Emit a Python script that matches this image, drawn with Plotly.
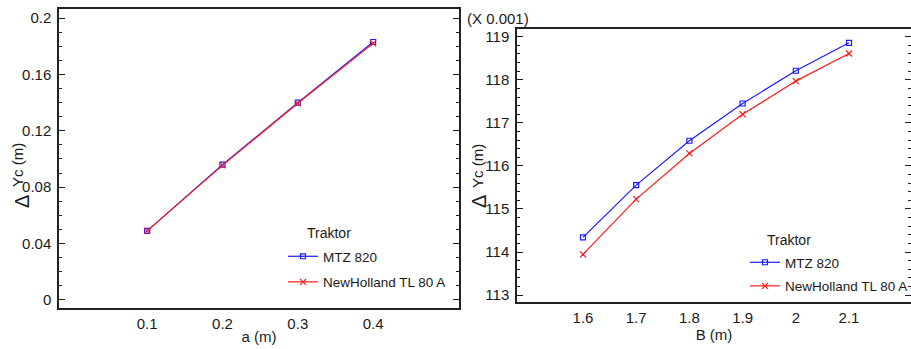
import plotly.graph_objects as go

W, H = 911, 349

# ---- data ----
a_vals = [0.1, 0.2, 0.3, 0.4]
a_mtz = [0.049, 0.096, 0.140, 0.183]
a_nh = [0.049, 0.0955, 0.1395, 0.182]

b_vals = [1.6, 1.7, 1.8, 1.9, 2.0, 2.1]
b_mtz = [114.34, 115.555, 116.585, 117.45, 118.21, 118.86]
b_nh = [113.945, 115.23, 116.29, 117.20, 117.97, 118.61]

left_yticks = [0, 0.04, 0.08, 0.12, 0.16, 0.2]
left_yticktext = ["0", "0.04", "0.08", "0.12", "0.16", "0.2"]
left_xticks = [0.1, 0.2, 0.3, 0.4]
right_yticks = [113, 114, 115, 116, 117, 118, 119]
right_xticks = [1.6, 1.7, 1.8, 1.9, 2.0, 2.1]
right_xticktext = ["1.6", "1.7", "1.8", "1.9", "2", "2.1"]

names = ["MTZ 820", "NewHolland TL 80 A"]
colors = ["#1a1aff", "#ff1a1a"]
symbols = ["square-open", "x-thin-open"]

FONT = "Liberation Sans, Arial, sans-serif"
TXT = "#1a1a1a"
FS = 15
LFS = 13.5

def px2x(p):
    return p / W

def px2y(p):
    return 1 - p / H

fig = go.Figure()

for i, ys in enumerate([a_mtz, a_nh]):
    fig.add_trace(go.Scatter(x=a_vals, y=ys, mode="lines+markers", name=names[i],
                             line=dict(color=colors[i], width=1.2),
                             marker=dict(symbol=symbols[i], size=5 if i == 0 else 6,
                                         color=colors[i], line=dict(width=1.2, color=colors[i])),
                             xaxis="x", yaxis="y", legend="legend", legendgroup="a%d" % i))
for i, ys in enumerate([b_mtz, b_nh]):
    fig.add_trace(go.Scatter(x=b_vals, y=ys, mode="lines+markers", name=names[i],
                             line=dict(color=colors[i], width=1.2),
                             marker=dict(symbol=symbols[i], size=5 if i == 0 else 6,
                                         color=colors[i], line=dict(width=1.2, color=colors[i])),
                             xaxis="x2", yaxis="y2", legend="legend2", legendgroup="b%d" % i))

axis_common = dict(showgrid=False, zeroline=False, linecolor="#222", color=TXT,
                   automargin=False, tickfont=dict(family=FONT, size=FS, color=TXT))

fig.update_layout(
    width=W, height=H,
    margin=dict(l=0, r=0, t=0, b=0, autoexpand=False),
    paper_bgcolor="white", plot_bgcolor="white",
    font=dict(family=FONT, size=FS, color=TXT),
    xaxis=dict(domain=[px2x(59), px2x(459)], range=[-0.017, 0.514], anchor="y",
               tickvals=left_xticks, ticks="", showline=True, linewidth=2, mirror=True,
               ticklabelstandoff=1,
               title=dict(text="a (m)", font=dict(family=FONT, size=FS, color=TXT), standoff=0),
               **axis_common),
    yaxis=dict(domain=[px2y(308), px2y(9)], range=[-0.0057, 0.2064], anchor="x",
               tickvals=left_yticks, ticktext=left_yticktext, ticks="inside", ticklen=6,
               tickwidth=1.2, tickcolor="#222",
               minor=dict(dtick=0.01, tick0=0, ticks="inside", ticklen=3.5, tickwidth=1.2, tickcolor="#222"),
               showline=True, linewidth=1.5, mirror="allticks", ticklabelstandoff=3,
               **axis_common),
    xaxis2=dict(domain=[px2x(517), 1.0], range=[1.476, 2.2165], anchor="y2",
                tickvals=right_xticks, ticktext=right_xticktext, ticks="", showline=True,
                linewidth=2, mirror=True, ticklabelstandoff=1,
                title=dict(text="B (m)", font=dict(family=FONT, size=FS, color=TXT), standoff=0),
                **axis_common),
    yaxis2=dict(domain=[px2y(302), px2y(29)], range=[112.84, 119.18], anchor="x2",
                tickvals=right_yticks, ticks="inside", ticklen=6, tickwidth=1.2, tickcolor="#222",
                minor=dict(dtick=0.2, tick0=113, ticks="inside", ticklen=3.5, tickwidth=1.2, tickcolor="#222"),
                showline=True, linewidth=1.5, mirror="allticks", ticklabelstandoff=3,
                **axis_common),
    legend=dict(x=px2x(283), y=px2y(241), xanchor="left", yanchor="top",
                bgcolor="rgba(0,0,0,0)", font=dict(family=FONT, size=LFS, color=TXT),
                traceorder="grouped", tracegroupgap=5, itemwidth=30),
    legend2=dict(x=px2x(745), y=px2y(247), xanchor="left", yanchor="top",
                 bgcolor="rgba(0,0,0,0)", font=dict(family=FONT, size=LFS, color=TXT),
                 traceorder="grouped", tracegroupgap=3, itemwidth=30),
)

ann = []
# y-axis titles: large delta with raised "Yc (m)"
for (dx, dy, yx, yy) in [(22, 202, 18, 165), (479, 202, 478, 166)]:
    ann.append(dict(text="Δ", x=px2x(dx), y=px2y(dy), xref="paper", yref="paper",
                    xanchor="center", yanchor="middle",
                    showarrow=False, textangle=-90, font=dict(family=FONT, size=20, color=TXT)))
    ann.append(dict(text="Yc (m)", x=px2x(yx), y=px2y(yy), xref="paper", yref="paper",
                    xanchor="center", yanchor="middle",
                    showarrow=False, textangle=-90, font=dict(family=FONT, size=FS, color=TXT)))
# legend titles
for (tx, ty) in [(305, 233), (765, 240)]:
    ann.append(dict(text="Traktor", x=px2x(tx), y=px2y(ty), xref="paper", yref="paper",
                    xanchor="left", yanchor="middle", showarrow=False,
                    font=dict(family=FONT, size=14, color=TXT)))
ann.append(dict(text="(X 0.001)", x=px2x(498), y=px2y(18), xref="paper", yref="paper",
                xanchor="center", yanchor="middle",
                showarrow=False, font=dict(family=FONT, size=FS, color=TXT)))
fig.update_layout(annotations=ann)

fig.write_html("out.html", config={"displayModeBar": False},
               post_script="document.body.style.margin='0';document.body.style.overflow='hidden';")
